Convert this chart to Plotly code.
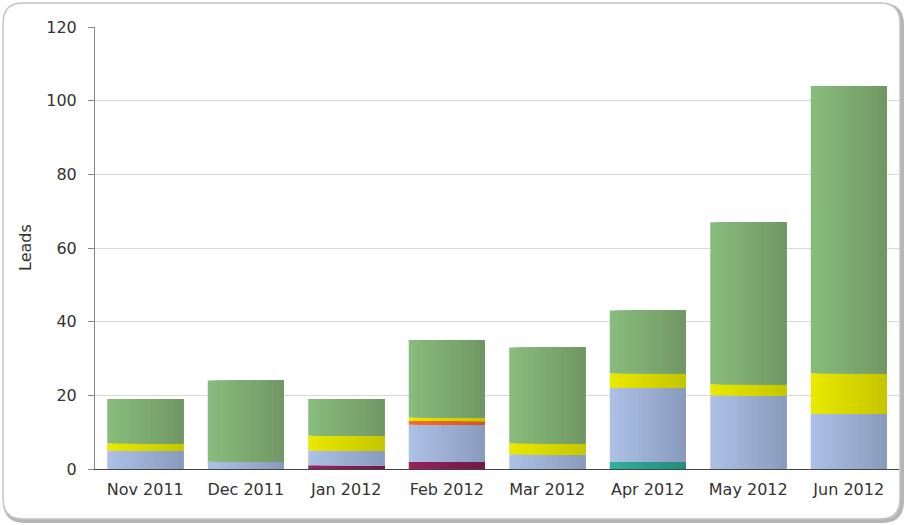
import plotly.graph_objects as go

months = ["Nov 2011", "Dec 2011", "Jan 2012", "Feb 2012", "Mar 2012", "Apr 2012", "May 2012", "Jun 2012"]
maroon = [0, 0, 1, 2, 0, 0, 0, 0]
teal = [0, 0, 0, 0, 0, 2, 0, 0]
blue = [5, 2, 4, 10, 4, 20, 20, 15]
orange = [0, 0, 0, 1, 0, 0, 0, 0]
yellow = [2, 0, 4, 1, 3, 4, 3, 11]
green = [12, 22, 10, 21, 26, 17, 44, 78]
y_ticks = [0, 20, 40, 60, 80, 100, 120]

series = [
    (maroon, (150, 35, 90), (115, 25, 70)),
    (teal, (50, 175, 155), (35, 140, 125)),
    (blue, (172, 192, 230), (138, 156, 190)),
    (orange, (245, 110, 45), (215, 85, 35)),
    (yellow, (232, 232, 0), (198, 198, 0)),
    (green, (136, 188, 124), (113, 152, 100)),
]

W, H = 905, 525
L, R, T, B = 95, 6, 27, 56
pw, ph = W - L - R, H - T - B

fig = go.Figure()
N = 16
bw = 0.756
sw = bw / N
base = [0] * len(months)
for vals, c0, c1 in series:
    for i in range(N):
        f = i / (N - 1)
        col = "rgb(%d,%d,%d)" % tuple(round(a + (b - a) * f) for a, b in zip(c0, c1))
        fig.add_trace(go.Bar(
            x=months, y=vals, base=base,
            offset=-bw / 2 + i * sw, width=bw - i * sw,
            marker=dict(color=col, line=dict(width=0)),
            showlegend=False, hoverinfo="skip",
        ))
    base = [b + v for b, v in zip(base, vals)]


def px(x):
    return (x - L) / pw


def py(y):
    return (H - B - y) / ph


def rrect(x0, y0, x1, y1, r):
    return ("M {a},{b} L {c},{b} Q {d},{b} {d},{e} L {d},{f} Q {d},{g} {c},{g} "
            "L {a},{g} Q {h},{g} {h},{f} L {h},{e} Q {h},{b} {a},{b} Z").format(
        a=px(x0 + r), b=py(y0), c=px(x1 - r), d=px(x1), e=py(y0 + r),
        f=py(y1 - r), g=py(y1), h=px(x0))


shapes = [
    dict(type="path", xref="paper", yref="paper", path=rrect(5, 5, 902, 521, 20),
         line=dict(color="rgba(90,90,90,0.45)", width=4), layer="below"),
    dict(type="path", xref="paper", yref="paper", path=rrect(3, 3, 900, 519, 20),
         line=dict(color="#c4c4c4", width=1.5), fillcolor="white", layer="below"),
]

font = "Verdana, DejaVu Sans, sans-serif"
fig.update_layout(
    width=W, height=H,
    margin=dict(l=L, r=R, t=T, b=B, autoexpand=False),
    barmode="overlay",
    paper_bgcolor="white", plot_bgcolor="rgba(0,0,0,0)",
    font=dict(family=font, size=16, color="#333"),
    shapes=shapes,
    xaxis=dict(
        type="category", range=[-0.5, len(months) - 0.5],
        showline=True, linecolor="#444", linewidth=1,
        ticks="", showgrid=False, ticklabelstandoff=6,
        tickfont=dict(family=font, size=16, color="#333"),
    ),
    yaxis=dict(
        range=[0, 120], tickvals=y_ticks,
        showline=True, linecolor="#888", linewidth=1,
        ticks="outside", ticklen=6, tickcolor="#888",
        gridcolor="#d8d8d8", gridwidth=1, zeroline=False,
        ticklabelstandoff=8,
        tickfont=dict(family=font, size=16, color="#333"),
    ),
    annotations=[dict(
        text="Leads", xref="paper", yref="paper", x=px(25), y=0.5,
        xanchor="center", yanchor="middle", textangle=-90, showarrow=False,
        font=dict(family=font, size=16, color="#333"),
    )],
)

fig.write_html("out.html")
